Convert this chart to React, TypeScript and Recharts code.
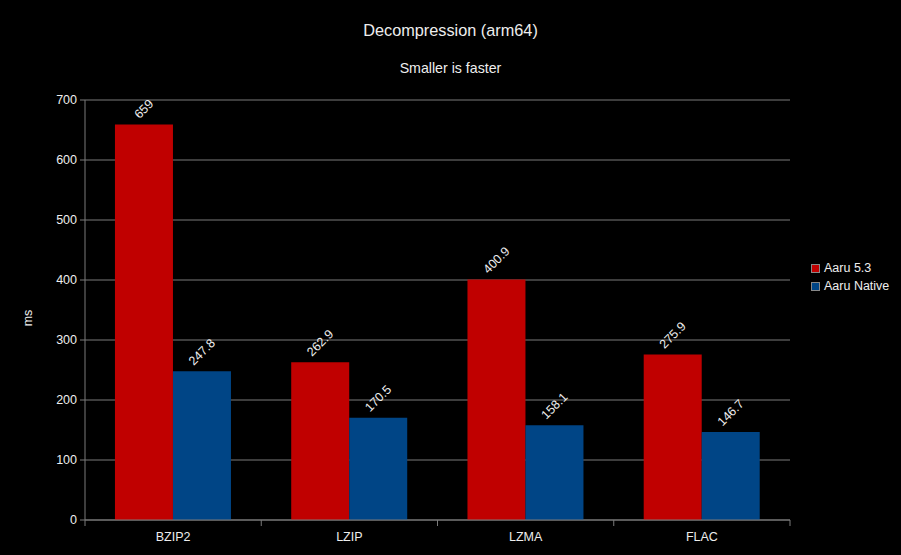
import React from 'react';
import { BarChart, Bar, XAxis, YAxis, CartesianGrid, LabelList } from 'recharts';

// values
const categories = ['BZIP2', 'LZIP', 'LZMA', 'FLAC'];
const aaru53 = [659, 262.9, 400.9, 275.9];
const aaruNative = [247.8, 170.5, 158.1, 146.7];
const yTicks = [0, 100, 200, 300, 400, 500, 600, 700];

const RED = '#c00000';
const BLUE = '#004586';
const TEXT = '#eeeeee';
const GRID = '#7a7a7a';
const FONT = '"Liberation Sans", Arial, sans-serif';

const W = 901;
const H = 555;
const margin = { top: 100, right: 111, left: 0, bottom: 0 };
const Y_AXIS_W = 85;
const bandWidth = (W - margin.left - margin.right - Y_AXIS_W) / categories.length;

const data = categories.map((name, i) => ({
  name,
  aaru: aaru53[i],
  native: aaruNative[i],
}));

// rotated value label centred above the bar, like the office chart
const RotatedLabel = (props: any) => {
  const { x, y, width, value } = props;
  const s = String(value);
  const len = s.replace('.', '').length * 6.9 + (s.includes('.') ? 3.4 : 0);
  const cx = Number(x) + Number(width) / 2;
  const cy = Number(y) - ((len + 9) * 0.3536 + 5);
  return (
    <text
      x={cx}
      y={cy}
      transform={`rotate(-45 ${cx} ${cy})`}
      textAnchor="middle"
      dominantBaseline="central"
      fill={TEXT}
      fontSize={12.5}
      fontFamily={FONT}
    >
      {s}
    </text>
  );
};

// category label plus tick marks on the band boundaries
const CategoryTick = (props: any) => {
  const { x, y, payload, index } = props;
  const left = x - bandWidth / 2;
  const right = x + bandWidth / 2;
  return (
    <g>
      <line x1={left} x2={left} y1={y} y2={y + 6} stroke={GRID} />
      {index === categories.length - 1 && <line x1={right} x2={right} y1={y} y2={y + 6} stroke={GRID} />}
      <text x={x} y={y + 21} textAnchor="middle" fill={TEXT} fontSize={12.5} fontFamily={FONT}>
        {payload.value}
      </text>
    </g>
  );
};

export default function App() {
  return (
    <div style={{ position: 'absolute', left: 0, top: 0, width: W, height: H, background: '#000', fontFamily: FONT }}>
      <div style={{ position: 'absolute', top: 20, width: W, textAlign: 'center', color: TEXT, fontSize: 16.3, lineHeight: '20px' }}>
        Decompression (arm64)
      </div>
      <div style={{ position: 'absolute', top: 59, width: W, textAlign: 'center', color: TEXT, fontSize: 14.2, lineHeight: '18px' }}>
        Smaller is faster
      </div>
      <div
        style={{
          position: 'absolute',
          left: 28,
          top: 318,
          color: TEXT,
          fontSize: 12.5,
          lineHeight: '14px',
          transform: 'translate(-50%, -50%) rotate(-90deg)',
        }}
      >
        ms
      </div>

      <BarChart width={W} height={H} data={data} margin={margin} barCategoryGap="17%" barGap={0}>
        <CartesianGrid vertical={false} stroke={GRID} yAxisId="left" />
        <XAxis
          dataKey="name"
          height={35}
          tickLine={false}
          tickSize={0}
          tickMargin={0}
          axisLine={{ stroke: GRID }}
          tick={<CategoryTick />}
          interval={0}
        />
        <YAxis
          yAxisId="left"
          width={Y_AXIS_W}
          domain={[0, 700]}
          ticks={yTicks}
          tickSize={5}
          tickMargin={3}
          tickLine={{ stroke: GRID }}
          axisLine={{ stroke: GRID }}
          tick={{ fill: TEXT, fontSize: 12.5, fontFamily: FONT }}
        />
        <YAxis yAxisId="right" orientation="right" width={0} domain={[0, 700]} tick={false} tickLine={false} axisLine={{ stroke: GRID }} />
        <Bar yAxisId="left" dataKey="aaru" name="Aaru 5.3" fill={RED} isAnimationActive={false}>
          <LabelList dataKey="aaru" content={<RotatedLabel />} />
        </Bar>
        <Bar yAxisId="left" dataKey="native" name="Aaru Native" fill={BLUE} isAnimationActive={false}>
          <LabelList dataKey="native" content={<RotatedLabel />} />
        </Bar>
      </BarChart>

      <div style={{ position: 'absolute', left: 811, top: 259, color: TEXT, fontSize: 12.5 }}>
        {[
          { label: 'Aaru 5.3', color: RED },
          { label: 'Aaru Native', color: BLUE },
        ].map((item) => (
          <div key={item.label} style={{ display: 'flex', alignItems: 'center', height: 18 }}>
            <span style={{ width: 7, height: 7, background: item.color, border: '0.5px solid #888', marginRight: 4 }} />
            <span>{item.label}</span>
          </div>
        ))}
      </div>
    </div>
  );
}
